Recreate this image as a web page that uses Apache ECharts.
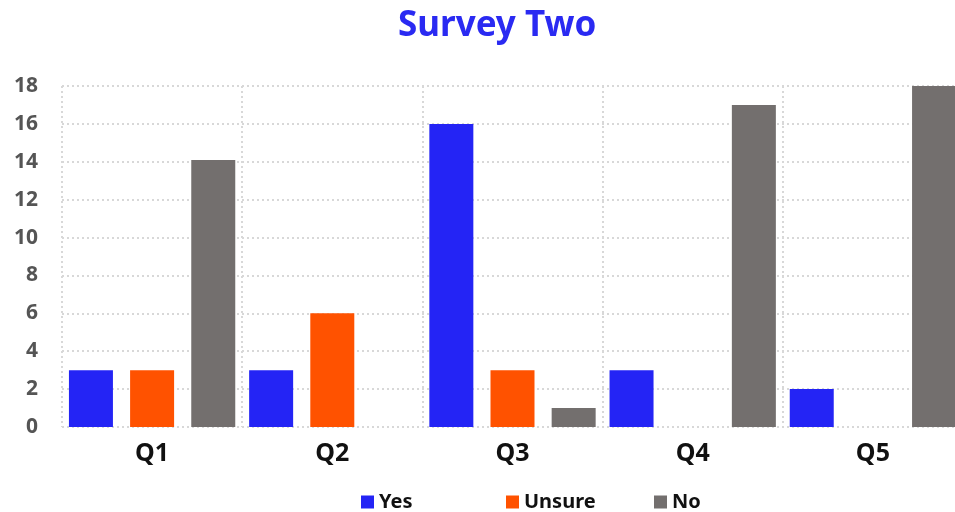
<!DOCTYPE html>
<html><head><meta charset="utf-8">
<script src="https://cdn.jsdelivr.net/npm/echarts@6/dist/echarts.min.js"></script>
<style>html,body{margin:0;padding:0;background:#fff}#c{width:955px;height:512px}</style>
</head><body><div id="c"></div>
<script>
const categories = ['Q1','Q2','Q3','Q4','Q5'];
const yesValues = [3, 3, 16, 3, 2];
const unsureValues = [3, 6, 3, 0, 0];
const noValues = [14.1, 0, 1, 17, 18];
const yTicks = [0, 2, 4, 6, 8, 10, 12, 14, 16, 18];
const seriesNames = ['Yes', 'Unsure', 'No'];
const colors = ['#2424f5', '#ff5200', '#736f6e'];
const FONT = 'Noto Sans';
const chart = echarts.init(document.getElementById('c'));
const legendLefts = [356, 501, 649];
chart.setOption({
  animation: false,
  textStyle: {fontFamily: FONT},
  title: {text: 'Survey Two', left: 393, top: 4,
    textStyle: {fontFamily: FONT, fontSize: 35, fontWeight: 'bold', color: '#2a2af2'}},
  legend: seriesNames.map((n, i) => ({
    data: [n], left: legendLefts[i], top: 487, itemWidth: 13, itemHeight: 13, itemGap: 8,
    icon: 'rect', textStyle: {fontFamily: FONT, fontSize: 20, fontWeight: 'bold', color: '#111'}
  })),
  grid: {left: 62, right: -8, top: 86, bottom: 85, containLabel: false, outerBoundsMode: 'none'},
  xAxis: {type: 'category', data: categories,
    axisLine: {show: false}, axisTick: {show: false},
    axisLabel: {fontFamily: FONT, fontSize: 25, fontWeight: 'bold', color: '#111', margin: 14},
    splitLine: {show: true, lineStyle: {type: [2, 3], width: 2, color: '#d8d8d8'}}},
  yAxis: {type: 'value', min: yTicks[0], max: yTicks[yTicks.length-1], interval: 2,
    axisLine: {show: false}, axisTick: {show: false},
    axisLabel: {fontFamily: FONT, fontSize: 21, fontWeight: 'bold', color: '#555', margin: 24},
    splitLine: {show: true, lineStyle: {type: [2, 3], width: 2, color: '#d8d8d8'}}},
  series: [yesValues, unsureValues, noValues].map((d, i) => ({
    name: seriesNames[i], type: 'bar', data: d, barWidth: 44, barGap: '39%',
    itemStyle: {color: colors[i]}
  }))
});
</script></body></html>
